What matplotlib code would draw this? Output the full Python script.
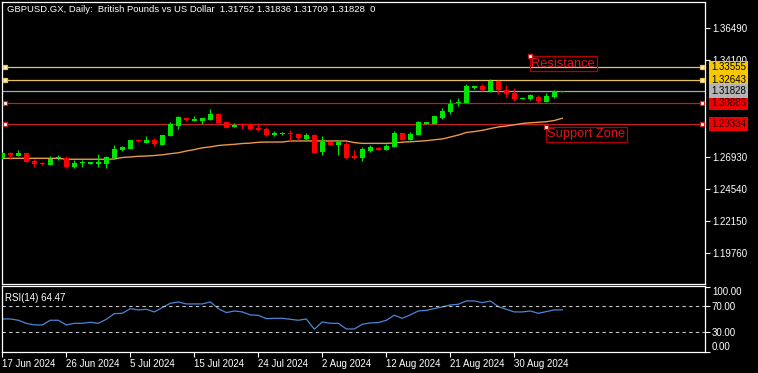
import matplotlib
matplotlib.use("Agg")

import matplotlib.pyplot as plt
import matplotlib.transforms as mtransforms
import numpy as np

# daily candles, 17 Jun 2024 onwards
opens = [1.2680, 1.2722, 1.2697, 1.2720, 1.2662, 1.2645, 1.2633, 1.2680, 1.2680, 1.2618,
         1.2642, 1.2638, 1.2635, 1.2638, 1.2682, 1.2741, 1.2749, 1.2814, 1.2791, 1.2816,
         1.2779, 1.2848, 1.2918, 1.2980, 1.2957, 1.2957, 1.2965, 1.3012, 1.2950, 1.2915,
         1.2930, 1.2933, 1.2908, 1.2900, 1.2856, 1.2861, 1.2871, 1.2861, 1.2826, 1.2853,
         1.2725, 1.2801, 1.2781, 1.2786, 1.2695, 1.2682, 1.2736, 1.2759, 1.2741, 1.2767,
         1.2866, 1.2816, 1.2856, 1.2935, 1.2935, 1.2978, 1.3025, 1.3094, 1.3091, 1.3205,
         1.3218, 1.3183, 1.3257, 1.3188, 1.3166, 1.3123, 1.3119, 1.3136, 1.3099, 1.3138,
         1.31752]
highs = [1.2725, 1.2729, 1.2741, 1.2722, 1.2675, 1.2655, 1.2695, 1.2705, 1.2695, 1.2665,
         1.2667, 1.2655, 1.2710, 1.2700, 1.2776, 1.2772, 1.2818, 1.2818, 1.2846, 1.2831,
         1.2855, 1.2948, 1.2997, 1.2982, 1.2995, 1.2982, 1.3047, 1.3015, 1.2952, 1.2940,
         1.2943, 1.2943, 1.2943, 1.2913, 1.2883, 1.2878, 1.2891, 1.2871, 1.2871, 1.2861,
         1.2846, 1.2803, 1.2814, 1.2803, 1.2741, 1.2762, 1.2779, 1.2762, 1.2786, 1.2883,
         1.2868, 1.2878, 1.2955, 1.2952, 1.2997, 1.3054, 1.3119, 1.3126, 1.3233, 1.3220,
         1.3230, 1.3270, 1.3259, 1.3225, 1.3201, 1.3133, 1.3156, 1.3151, 1.3168, 1.3188,
         1.31836]
lows = [1.2677, 1.2673, 1.2695, 1.2653, 1.2618, 1.2630, 1.2630, 1.2670, 1.2610, 1.2610,
        1.2618, 1.2636, 1.2618, 1.2610, 1.2677, 1.2734, 1.2747, 1.2801, 1.2791, 1.2774,
        1.2777, 1.2846, 1.2898, 1.2955, 1.2955, 1.2937, 1.2962, 1.2940, 1.2905, 1.2913,
        1.2900, 1.2888, 1.2881, 1.2848, 1.2846, 1.2853, 1.2811, 1.2818, 1.2816, 1.2717,
        1.2705, 1.2776, 1.2705, 1.2675, 1.2678, 1.2660, 1.2725, 1.2741, 1.2739, 1.2765,
        1.2814, 1.2814, 1.2854, 1.2933, 1.2933, 1.2970, 1.3007, 1.3071, 1.3089, 1.3195,
        1.3183, 1.3175, 1.3158, 1.3138, 1.3106, 1.3121, 1.3116, 1.3094, 1.3097, 1.3131,
        1.31709]
closes = [1.2722, 1.2705, 1.2720, 1.2655, 1.2638, 1.2638, 1.2677, 1.2692, 1.2618, 1.2647,
          1.2645, 1.2653, 1.2653, 1.2692, 1.2749, 1.2762, 1.2816, 1.2806, 1.2816, 1.2786,
          1.2853, 1.2933, 1.2987, 1.2965, 1.2975, 1.2980, 1.3010, 1.2943, 1.2908, 1.2928,
          1.2926, 1.2898, 1.2893, 1.2856, 1.2871, 1.2868, 1.2859, 1.2829, 1.2856, 1.2722,
          1.2803, 1.2779, 1.2799, 1.2682, 1.2680, 1.2752, 1.2767, 1.2744, 1.2774, 1.2871,
          1.2816, 1.2861, 1.2952, 1.2950, 1.2995, 1.3032, 1.3084, 1.3097, 1.3220, 1.3218,
          1.3188, 1.3257, 1.3188, 1.3158, 1.3121, 1.3131, 1.3149, 1.3106, 1.3143, 1.3183,
          1.31828]

# moving average (orange line)
ma_values = [1.2680, 1.2680, 1.2680, 1.2680, 1.2680, 1.2680, 1.2680, 1.2680, 1.2673, 1.2673,
             1.2673, 1.2673, 1.2673, 1.2673, 1.2675, 1.2686, 1.2690, 1.2695, 1.2697, 1.2701,
             1.2706, 1.2714, 1.2721, 1.2734, 1.2745, 1.2758, 1.2765, 1.2775, 1.2780, 1.2784,
             1.2790, 1.2793, 1.2799, 1.2801, 1.2801, 1.2801, 1.2809, 1.2809, 1.2809, 1.2809,
             1.2809, 1.2809, 1.2809, 1.2809, 1.2797, 1.2791, 1.2791, 1.2791, 1.2791, 1.2794,
             1.2800, 1.2803, 1.2807, 1.2811, 1.2818, 1.2824, 1.2838, 1.2853, 1.2872, 1.2879,
             1.2888, 1.2901, 1.2913, 1.2920, 1.2929, 1.2939, 1.2944, 1.2948, 1.2952, 1.2961,
             1.2978]

rsi_values = [50.5, 50.5, 48.5, 43.8, 41.3, 41.3, 48.5, 48.5, 41.3, 43.8,
              43.8, 45.4, 43.8, 50.0, 58.7, 59.2, 66.4, 64.4, 65.4, 61.3,
              68.0, 74.6, 76.7, 73.6, 73.6, 73.6, 76.7, 66.4, 60.3, 62.8,
              61.3, 56.7, 56.2, 51.0, 51.5, 51.5, 50.0, 48.5, 50.5, 34.6,
              45.9, 43.8, 43.8, 35.1, 35.1, 42.3, 44.4, 44.9, 48.5, 56.2,
              51.5, 56.7, 62.8, 63.8, 66.4, 69.0, 72.0, 73.1, 78.2, 78.2,
              75.6, 78.2, 69.5, 65.4, 61.3, 61.3, 62.8, 59.2, 61.8, 64.4,
              64.47]

# visible price scale labels (the others sit under the level tags)
price_ticks = [1.36490, 1.34100, 1.26930, 1.24540, 1.22150, 1.19760]
date_labels = ["17 Jun 2024", "26 Jun 2024", "5 Jul 2024", "15 Jul 2024", "24 Jul 2024",
               "2 Aug 2024", "12 Aug 2024", "21 Aug 2024", "30 Aug 2024"]
date_step = 8  # bars between date labels

# horizontal levels: price, line colour, marker fill, tag colour, tag text colour
levels = [
    (1.33555, "#e6c25a", "#fff2b0", "#f7c800", "black"),
    (1.32643, "#e6c25a", "#fff2b0", "#f7c800", "black"),
    (1.30886, "#c41e1e", "white", "#f00000", "#300000"),
    (1.29334, "#c41e1e", "white", "#f00000", "#300000"),
]
bid = 1.31828

W, H = 758, 373
BG = "black"
FS = 7.0

plt.rcParams["font.family"] = ["Liberation Sans", "DejaVu Sans"]

fig = plt.figure(figsize=(W / 100, H / 100), dpi=100, facecolor=BG)


def px_rect(x0, y0, x1, y1):
    return [x0 / W, 1 - y1 / H, (x1 - x0) / W, (y1 - y0) / H]


ax = fig.add_axes(px_rect(2, 2.3, 705, 284))
ax_rsi = fig.add_axes(px_rect(2, 286, 705, 352.3))

for a in (ax, ax_rsi):
    a.set_facecolor(BG)
    for s in a.spines.values():
        s.set_color("white")
        s.set_linewidth(0.9)

n = len(closes)
x = np.arange(n)
o = np.array(opens)
c = np.array(closes)
up = c >= o
colors = np.where(up, "#00e600", "#ff0000")

# CANDLES
ax.vlines(x, lows, highs, colors=colors, linewidth=0.9, zorder=3)
body_low = np.minimum(o, c)
body_h = np.maximum(np.abs(c - o), 0.0008)
ax.bar(x, body_h, bottom=body_low, width=0.65, color=colors, linewidth=0, zorder=4)

# MA
ax.plot(x, ma_values, color="#e8994a", linewidth=1.0, zorder=2.6)

# LEVEL LINES
blend = mtransforms.blended_transform_factory(ax.transAxes, ax.transData)
ax.axhline(bid, color="#a8a8a8", linewidth=0.9, zorder=2)
for price, lc, mf, tc, txc in levels:
    ax.axhline(price, color=lc, linewidth=0.9, zorder=2)
    ax.plot([0.0045, 0.9955], [price, price], "s", transform=blend, markersize=3.4,
            markerfacecolor=mf, markeredgecolor=lc, markeredgewidth=0.9,
            zorder=5, clip_on=False)

for price, tc, txc in [(p, t, tx) for p, _, _, t, tx in levels] + [(bid, "#b4b4b4", "black")]:
    ax.text(1.0085, price, f"{price:.5f}", transform=blend, fontsize=FS,
            color=txc, va="center", ha="left", zorder=10, clip_on=False,
            bbox=dict(boxstyle="square,pad=0.2", fc=tc, ec="none"))

# TEXT OBJECTS
for bar_i, price, label in [(66, 1.34408, "Resistance"), (68, 1.29151, "Support Zone")]:
    ax.text(bar_i + 0.15, price - 0.0012, label, fontsize=9.3, color="#e01414",
            va="top", ha="left", zorder=6,
            bbox=dict(boxstyle="square,pad=0.13", fc="none", ec="#b00000", lw=0.9))
    ax.plot([bar_i], [price], "s", markersize=3.4, markerfacecolor="white",
            markeredgecolor="#c41e1e", markeredgewidth=0.9, zorder=7)

ax.set_xlim(-0.04, 87.84)
ax.set_ylim(1.17454, 1.3840)
ax.yaxis.tick_right()
ax.set_yticks(price_ticks)
ax.set_yticklabels([f"{t:.5f}" for t in price_ticks])
ax.tick_params(axis="y", colors="white", labelsize=FS, length=3.5, width=0.8, pad=1.5)
ax.set_xticks([])

# RSI
ax_rsi.plot(x, rsi_values, color="#4a86d8", linewidth=0.9)
for lvl in (70, 30):
    ax_rsi.axhline(lvl, color="#c8c8c8", linewidth=0.8, linestyle=(0, (3, 3)))
ax_rsi.set_xlim(-0.04, 87.84)
ax_rsi.set_ylim(-0.8, 101.2)
ax_rsi.yaxis.tick_right()
ax_rsi.set_yticks([0, 30, 70, 100])
ax_rsi.set_yticklabels(["0.00", "30.00", "70.00", "100.00"])
ax_rsi.tick_params(axis="y", colors="white", labelsize=FS, length=3.5, width=0.8, pad=1.5)
lbls = ax_rsi.get_yticklabels()
lbls[0].set_va("bottom")
lbls[3].set_va("top")
ax_rsi.text(0.004, 0.82, "RSI(14) 64.47", transform=ax_rsi.transAxes, color="white",
            fontsize=FS, va="center", ha="left")

ax_rsi.set_xticks(np.arange(len(date_labels)) * date_step)
ax_rsi.set_xticklabels(date_labels, ha="left")
ax_rsi.tick_params(axis="x", colors="white", labelsize=FS, length=3.5, width=0.8, pad=1.0)

fig.text(7 / W, 1 - 10 / H,
         "GBPUSD.GX, Daily:  British Pounds vs US Dollar  1.31752 1.31836 1.31709 1.31828  0",
         color="white", fontsize=6.8, va="center", ha="left")

fig.savefig("out.png", dpi=100, facecolor=BG)
plt.close(fig)
